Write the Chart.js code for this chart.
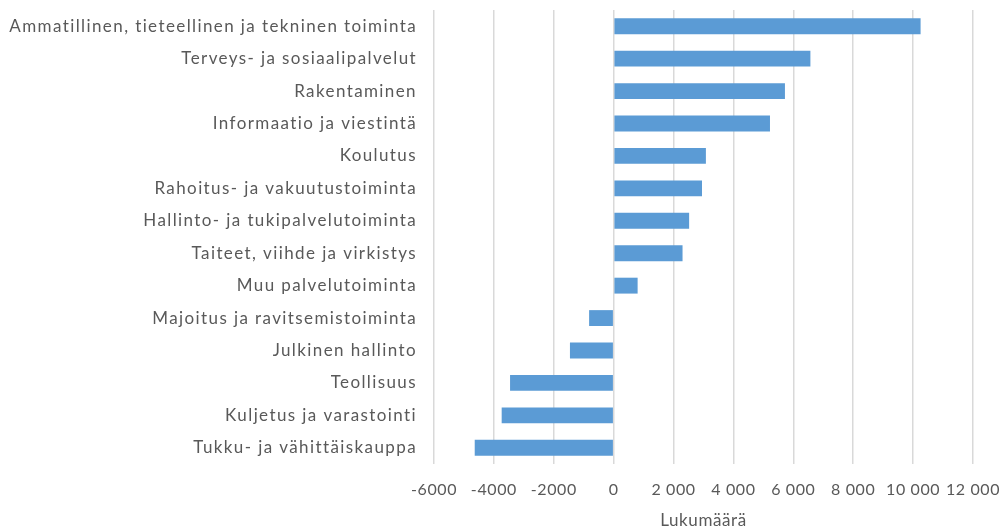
<!DOCTYPE html>
<html>
<head>
<meta charset="utf-8">
<script src="https://cdn.jsdelivr.net/npm/chart.js@4/dist/chart.umd.min.js"></script>
<style>
html,body{margin:0;padding:0;background:#fff;}
#wrap{width:1001px;height:532px;position:relative;}
</style>
</head>
<body>
<div id="wrap"><canvas id="c" width="1001" height="532"></canvas></div>
<script>
const categories = [
  "Ammatillinen, tieteellinen ja tekninen toiminta",
  "Terveys- ja sosiaalipalvelut",
  "Rakentaminen",
  "Informaatio ja viestintä",
  "Koulutus",
  "Rahoitus- ja vakuutustoiminta",
  "Hallinto- ja tukipalvelutoiminta",
  "Taiteet, viihde ja virkistys",
  "Muu palvelutoiminta",
  "Majoitus ja ravitsemistoiminta",
  "Julkinen hallinto",
  "Teollisuus",
  "Kuljetus ja varastointi",
  "Tukku- ja vähittäiskauppa"
];
const values = [10250, 6570, 5720, 5220, 3080, 2950, 2520, 2300, 800, -820, -1460, -3460, -3740, -4640];
const tickValues = [-6000, -4000, -2000, 0, 2000, 4000, 6000, 8000, 10000, 12000];
const tickLabels = ["-6000", "-4000", "-2000", "0", "2 000", "4 000", "6 000", "8 000", "10 000", "12 000"];
const axisTitle = "Lukumäärä";

const FONT = "Lato";
const GRAY = "#595959";

function wrapSpacing(scale, spacing) {
  if (scale._spWrapped) return;
  scale._spWrapped = true;
  const origLabels = scale.drawLabels;
  scale.drawLabels = function (area) {
    const ctx = this.ctx;
    const prev = ctx.letterSpacing;
    ctx.letterSpacing = spacing;
    origLabels.call(this, area);
    ctx.letterSpacing = prev || '0px';
  };
  const origTitle = scale.drawTitle;
  scale.drawTitle = function (area) {
    const ctx = this.ctx;
    const prev = ctx.letterSpacing;
    ctx.letterSpacing = spacing;
    origTitle.call(this, area);
    ctx.letterSpacing = prev || '0px';
  };
}

const spacingPlugin = {
  id: 'spacing',
  beforeDraw(chart) {
    wrapSpacing(chart.scales.y, '1.4px');
    wrapSpacing(chart.scales.x, '0.6px');
  }
};

new Chart(document.getElementById('c'), {
  type: 'bar',
  data: {
    labels: categories,
    datasets: [{
      data: values,
      backgroundColor: '#5B9BD5',
      borderWidth: 0,
      barPercentage: 1,
      categoryPercentage: 0.49
    }]
  },
  plugins: [spacingPlugin],
  options: {
    indexAxis: 'y',
    responsive: false,
    animation: false,
    layout: { padding: { top: 10, right: 0, left: 0, bottom: 0 } },
    plugins: { legend: { display: false }, tooltip: { enabled: false } },
    scales: {
      x: {
        min: -6000, max: 12000,
        afterBuildTicks: (s) => { s.ticks = tickValues.map(v => ({ value: v })); },
        afterFit: (s) => { s.height = 68; s.paddingLeft = 0; s.paddingRight = 28; },
        ticks: {
          color: GRAY,
          font: { family: FONT, size: 16 },
          padding: 16,
          maxRotation: 0,
          autoSkip: false,
          callback: (v) => { const i = tickValues.indexOf(v); return i >= 0 ? tickLabels[i] : ''; }
        },
        grid: { color: '#d9d9d9', lineWidth: 1.5, drawTicks: false },
        border: { display: false },
        title: { display: true, text: axisTitle, color: GRAY, font: { family: FONT, size: 17 }, padding: { top: 4, bottom: 1 } }
      },
      y: {
        afterFit: (s) => { s.width = 434; s.paddingTop = 0; s.paddingBottom = 0; },
        ticks: { color: GRAY, font: { family: FONT, size: 17 }, padding: 17, autoSkip: false },
        grid: { display: false, drawTicks: false },
        border: { display: false }
      }
    }
  }
});
</script>
</body>
</html>
